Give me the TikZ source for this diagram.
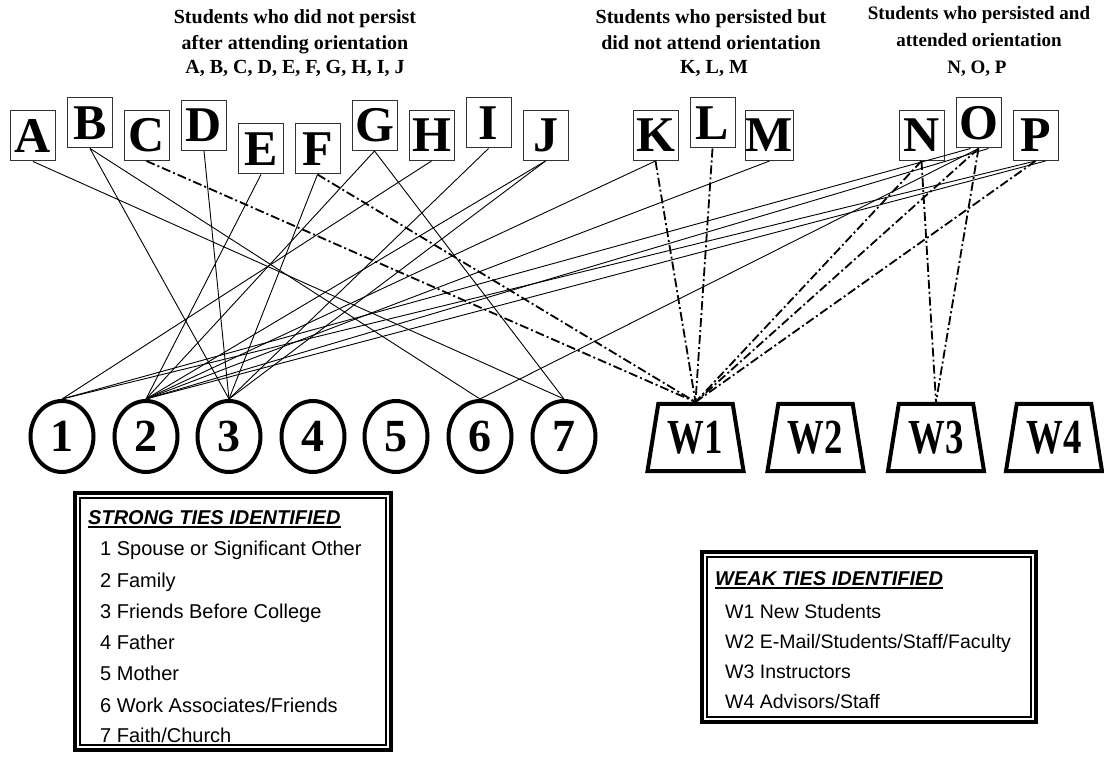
\documentclass[tikz,border=0pt]{standalone}
\usepackage{fontspec}
\setmainfont{Liberation Serif}
\newfontfamily\lsans{Liberation Sans}
\usetikzlibrary{shapes.geometric}
\begin{document}
\begin{tikzpicture}[x=1pt,y=-1pt,
  sbox/.style={draw=black!80, line width=1pt, minimum width=45pt, minimum height=50pt, inner sep=0pt, font=\fontsize{50}{50}\selectfont\bfseries},
  stie/.style={ellipse, draw, line width=4pt, minimum width=63pt, minimum height=71pt, inner sep=0pt, font=\fontsize{46}{46}\selectfont\bfseries},
  wtie/.style={trapezium, draw, line width=4pt, trapezium angle=72, trapezium stretches body=true, minimum width=96pt, minimum height=67pt, inner sep=0pt, font=\fontsize{49}{49}\selectfont\bfseries},
  strongln/.style={line width=0.9pt},
  weakln/.style={line width=1.8pt, dash pattern=on 9pt off 3pt on 2pt off 3pt},
  ttl/.style={anchor=base, inner sep=0pt, font=\fontsize{20}{25}\selectfont\bfseries},
  ttlb/.style={anchor=base, inner sep=0pt, font=\fontsize{19}{24}\selectfont\bfseries},
  lgframe/.style={draw, line width=4pt, inner sep=0pt},
  lgtitle/.style={anchor=base west, inner sep=0pt, font=\lsans\fontsize{20}{24}\selectfont\bfseries\itshape},
  lgrow/.style={anchor=base west, inner sep=0pt, font=\lsans\fontsize{20}{24}\selectfont},
  lgroww/.style={anchor=base west, inner sep=0pt, font=\lsans\fontsize{19.5}{24}\selectfont},
]
\useasboundingbox (0,0) rectangle (1104,759);

% titles
\node[ttl] (t1a) at (295,24) {Students who did not persist};
\node[ttl] (t1b) at (295,50) {after attending orientation};
\node[ttl] (t1c) at (295,74) {A, B, C, D, E, F, G, H, I, J};
\node[ttl] (t2a) at (711,24) {Students who persisted but};
\node[ttl] (t2b) at (711,50) {did not attend orientation};
\node[ttl] (t2c) at (714,74) {K, L, M};
\node[ttlb] (t3a) at (979,20) {Students who persisted and};
\node[ttlb] (t3b) at (979,47) {attended orientation};
\node[ttlb] (t3c) at (977,74) {N, O, P};

% student boxes
\node[sbox] (A) at (33,136) {A};
\node[sbox] (B) at (90,123) {B};
\node[sbox] (C) at (146.5,135.5) {C};
\node[sbox] (D) at (204,125.5) {D};
\node[sbox] (E) at (261,149) {E};
\node[sbox] (F) at (317.5,149) {F};
\node[sbox] (G) at (374.5,125.5) {G};
\node[sbox] (H) at (431.5,135.5) {H};
\node[sbox] (I) at (488.5,123) {I};
\node[sbox] (J) at (545.5,135.5) {J};
\node[sbox] (K) at (655.5,135.5) {K};
\node[sbox] (L) at (712.5,123) {L};
\node[sbox] (M) at (769.5,135.5) {M};
\node[sbox] (N) at (921.5,135.5) {N};
\node[sbox] (O) at (978.5,123) {O};
\node[sbox] (P) at (1035.5,135.5) {P};

% strong ties
\node[stie] (s1) at (62,436.5) {1};
\node[stie] (s2) at (146,436.5) {2};
\node[stie] (s3) at (229,436.5) {3};
\node[stie] (s4) at (313,436.5) {4};
\node[stie] (s5) at (396,436.5) {5};
\node[stie] (s6) at (480,436.5) {6};
\node[stie] (s7) at (564,436.5) {7};

% weak ties
\node[wtie] (W1) at (695.5,437.5) {\scalebox{0.75}[1]{W1}};
\node[wtie] (W2) at (815.5,437.5) {\scalebox{0.75}[1]{W2}};
\node[wtie] (W3) at (936,437.5) {\scalebox{0.75}[1]{W3}};
\node[wtie] (W4) at (1054,437.5) {\scalebox{0.75}[1]{W4}};

% strong connectors
\draw[strongln] (A.south) -- (s7.north);
\draw[strongln] (B.south) -- (s3.north);
\draw[strongln] (B.south) -- (s6.north);
\draw[strongln] (D.south) -- (s3.north);
\draw[strongln] (E.south) -- (s2.north);
\draw[strongln] (F.south) -- (s3.north);
\draw[strongln] (G.south) -- (s2.north);
\draw[strongln] (G.south) -- (s7.north);
\draw[strongln] (H.south) -- (s1.north);
\draw[strongln] (I.south) -- (s3.north);
\draw[strongln] (J.south) -- (s2.north);
\draw[strongln] (J.south) -- (s3.north);
\draw[strongln] (K.south) -- (s2.north);
\draw[strongln] (M.south) -- (s2.north);
\draw[strongln] ([xshift=-8pt]O.south) -- (s1.north);
\draw[strongln] ([xshift=10pt]O.south) -- (s2.north);
\draw[strongln] (O.south) -- (s6.north);
\draw[strongln] (P.south) -- (s1.north);
\draw[strongln] ([xshift=10pt]P.south) -- (s2.north);

% weak connectors
\draw[weakln] (C.south) -- (W1.north);
\draw[weakln] (F.south) -- (W1.north);
\draw[weakln] (K.south) -- (W1.north);
\draw[weakln] (L.south) -- (W1.north);
\draw[weakln] (N.south) -- (W1.north);
\draw[weakln] (O.south) -- (W1.north);
\draw[weakln] (P.south) -- (W1.north);
\draw[weakln] (N.south) -- (W3.north);
\draw[weakln] (O.south) -- (W3.north);

% strong legend
\node[lgframe, minimum width=316pt, minimum height=257pt] (sleg) at (233,621.5) {};
\draw[line width=1.2pt] ([xshift=7pt,yshift=-7pt]sleg.north west) rectangle ([xshift=-7pt,yshift=7pt]sleg.south east);
\node[lgtitle] (slt) at (88,524) {STRONG TIES IDENTIFIED};
\draw[line width=1.8pt] ([yshift=-3pt]slt.base west) -- ([yshift=-3pt]slt.base east);
\node[lgrow] (sr1) at (100,555) {1 Spouse or Significant Other};
\node[lgrow] (sr2) at (100,587) {2 Family};
\node[lgrow] (sr3) at (100,618) {3 Friends Before College};
\node[lgrow] (sr4) at (100,649) {4 Father};
\node[lgrow] (sr5) at (100,680) {5 Mother};
\node[lgrow] (sr6) at (100,712) {6 Work Associates/Friends};
\node[lgrow] (sr7) at (100,742) {7 Faith/Church};

% weak legend
\node[lgframe, minimum width=334pt, minimum height=170pt] (wleg) at (869,637) {};
\draw[line width=1.2pt] ([xshift=7pt,yshift=-7pt]wleg.north west) rectangle ([xshift=-7pt,yshift=7pt]wleg.south east);
\node[lgtitle] (wlt) at (715,585) {WEAK TIES IDENTIFIED};
\draw[line width=1.8pt] ([yshift=-3pt]wlt.base west) -- ([yshift=-3pt]wlt.base east);
\node[lgroww] (wr1) at (725,618) {W1 New Students};
\node[lgroww] (wr2) at (725,648) {W2 E-Mail/Students/Staff/Faculty};
\node[lgroww] (wr3) at (725,678) {W3 Instructors};
\node[lgroww] (wr4) at (725,708) {W4 Advisors/Staff};
\end{tikzpicture}
\end{document}
